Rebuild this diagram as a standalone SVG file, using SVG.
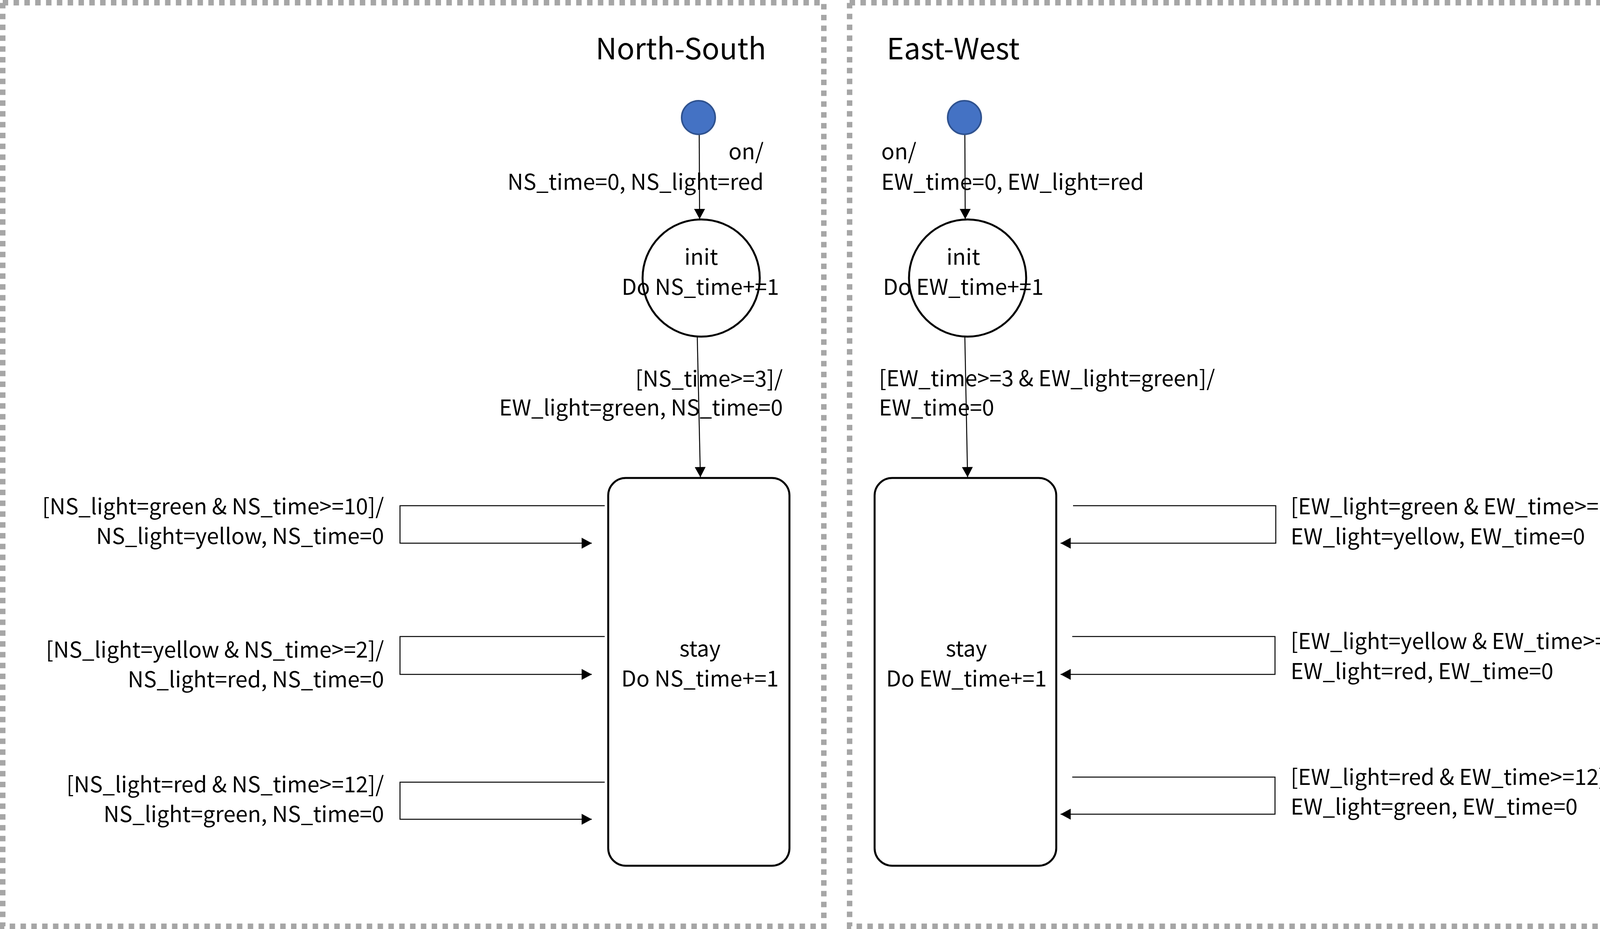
<svg xmlns="http://www.w3.org/2000/svg" width="4284" height="2379" viewBox="0 0 4284 2379">
<style>
.panel{fill:none;stroke:#a6a6a6;stroke-width:14;stroke-dasharray:14 13.7}
.t{font-family:"Noto Sans CJK KR","Noto Sans",sans-serif;font-size:56px;fill:#000}
.title{font-family:"Noto Sans CJK KR","Noto Sans",sans-serif;font-size:75px;fill:#000}
.st{fill:#fff;stroke:#000;stroke-width:5}
.dot{fill:#4472c4;stroke:#2f528f;stroke-width:4}
.c{fill:none;stroke:#000;stroke-width:2.5}
.e{text-anchor:end}.m{text-anchor:middle}
</style>
<defs>
<marker id="ah" markerUnits="userSpaceOnUse" markerWidth="28" markerHeight="28" viewBox="0 0 26 28" refX="26" refY="14" orient="auto">
<path d="M0,0 L26,14 L0,28 Z" fill="#000"/>
</marker>
</defs>
<rect width="4284" height="2379" fill="#fff"/>
<g id="panel-ns"><rect class="panel" x="7" y="7" width="2102" height="2365"/></g>
<g id="panel-ew"><rect class="panel" x="2175" y="7" width="2102" height="2365"/></g>
<g id="connectors">
<line class="c" x1="1790" y1="345" x2="1791" y2="561" marker-end="url(#ah)"/>
<line class="c" x1="1785" y1="863" x2="1793" y2="1222" marker-end="url(#ah)"/>
<polyline class="c" points="1548,1295 1024,1295 1024,1391 1515,1391" marker-end="url(#ah)"/>
<polyline class="c" points="1548,1630 1024,1630 1024,1727 1515,1727" marker-end="url(#ah)"/>
<polyline class="c" points="1548,2003 1024,2003 1024,2098 1515,2098" marker-end="url(#ah)"/>
<line class="c" x1="2470" y1="345" x2="2471" y2="561" marker-end="url(#ah)"/>
<line class="c" x1="2470" y1="863" x2="2477" y2="1222" marker-end="url(#ah)"/>
<polyline class="c" points="2747,1295 3266,1295 3266,1391 2715,1391" marker-end="url(#ah)"/>
<polyline class="c" points="2745,1630 3264,1630 3264,1727 2715,1727" marker-end="url(#ah)"/>
<polyline class="c" points="2745,1990 3264,1990 3264,2085 2715,2085" marker-end="url(#ah)"/>
</g>
<g id="labels-ns">
<text class="title m" x="1743" y="152">North-South</text>
<text class="t e" x="1955" y="408">on/</text>
<text class="t e" x="1955" y="486">NS_time=0, NS_light=red</text>
<text class="t e" x="2004" y="990">[NS_time&gt;=3]/</text>
<text class="t e" x="2004" y="1064">EW_light=green, NS_time=0</text>
<text class="t e" x="983" y="1317">[NS_light=green &amp; NS_time&gt;=10]/</text>
<text class="t e" x="983" y="1393">NS_light=yellow, NS_time=0</text>
<text class="t e" x="983" y="1684">[NS_light=yellow &amp; NS_time&gt;=2]/</text>
<text class="t e" x="983" y="1760">NS_light=red, NS_time=0</text>
<text class="t e" x="983" y="2029">[NS_light=red &amp; NS_time&gt;=12]/</text>
<text class="t e" x="983" y="2105">NS_light=green, NS_time=0</text>
</g>
<g id="labels-ew">
<text class="title" x="2270" y="152">East-West</text>
<text class="t" x="2256" y="408">on/</text>
<text class="t" x="2256" y="486">EW_time=0, EW_light=red</text>
<text class="t" x="2250" y="989">[EW_time&gt;=3 &amp; EW_light=green]/</text>
<text class="t" x="2250" y="1064">EW_time=0</text>
<text class="t" x="3304" y="1317">[EW_light=green &amp; EW_time&gt;=10]/</text>
<text class="t" x="3304" y="1394">EW_light=yellow, EW_time=0</text>
<text class="t" x="3304" y="1662">[EW_light=yellow &amp; EW_time&gt;=2]/</text>
<text class="t" x="3304" y="1739">EW_light=red, EW_time=0</text>
<text class="t" x="3304" y="2010">[EW_light=red &amp; EW_time&gt;=12]/</text>
<text class="t" x="3304" y="2086">EW_light=green, EW_time=0</text>
</g>
<g id="ns-initial"><circle class="dot" cx="1788" cy="301" r="43"/></g>
<g id="ns-init"><circle class="st" cx="1795" cy="712" r="150"/>
<text class="t m" x="1795" y="678">init</text>
<text class="t m" x="1793" y="755">Do NS_time+=1</text></g>
<g id="ns-stay"><rect class="st" x="1557" y="1224" width="464" height="993" rx="45"/>
<text class="t m" x="1792" y="1681">stay</text>
<text class="t m" x="1792" y="1758">Do NS_time+=1</text></g>
<g id="ew-initial"><circle class="dot" cx="2469" cy="301" r="43"/></g>
<g id="ew-init"><circle class="st" cx="2477" cy="712" r="150"/>
<text class="t m" x="2466" y="678">init</text>
<text class="t m" x="2466" y="755">Do EW_time+=1</text></g>
<g id="ew-stay"><rect class="st" x="2239" y="1224" width="465" height="993" rx="45"/>
<text class="t m" x="2474" y="1681">stay</text>
<text class="t m" x="2474" y="1758">Do EW_time+=1</text></g>
</svg>
